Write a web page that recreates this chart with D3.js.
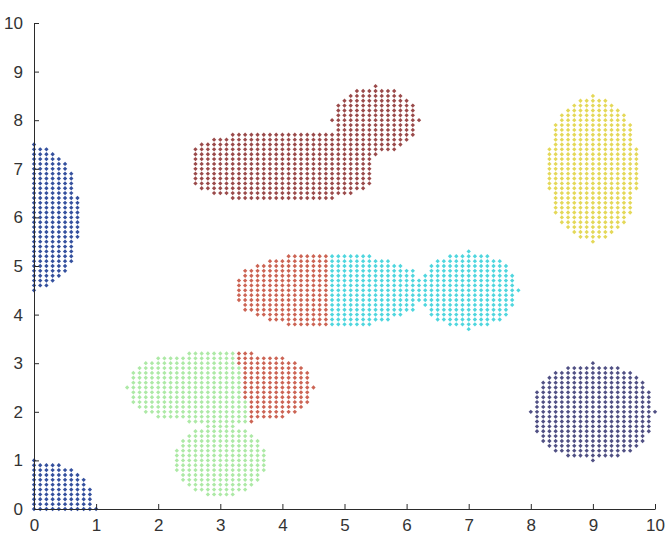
<!DOCTYPE html>
<html>
<head>
<meta charset="utf-8">
<script src="https://cdn.jsdelivr.net/npm/d3@7"></script>
<style>
  body { margin: 0; background: #fff; }
  .axis path, .axis line { stroke: #2b2b2b; }
  .axis text { font-family: Arial, "Liberation Sans", sans-serif; font-size: 17px; fill: #333; }
</style>
</head>
<body>
<div id="chart"></div>
<script>
'use strict'

// axis ticks
const xTicks = [0, 1, 2, 3, 4, 5, 6, 7, 8, 9, 10];
const yTicks = [0, 1, 2, 3, 4, 5, 6, 7, 8, 9, 10];

// the points sit on a regular grid, this is its step
const gridStep = 0.1;

// blobs of points (centre, radii, roundness, cluster)
const shapeCx      = [0,      0,      4,       5.5,     4.75,   7,      3,       3,       9,        9];
const shapeCy      = [0,      6,      7.05,    8,       4.5,    4.5,    2.5,     1,       7,        2];
const shapeRx      = [1,      0.72,   1.5,     0.7,     1.5,    0.8,    1.5,     0.75,    0.72,     1];
const shapeRy      = [1,      1.5,    0.72,    0.7,     0.75,   0.8,    0.72,    0.75,    1.5,      1];
const shapePow     = [2,      2.2,    2.6,     2,       2.4,    2,      2.5,     2,       2.2,      2];
const shapeCluster = ['navy', 'navy', 'brown', 'brown', 'cyan', 'cyan', 'green', 'green', 'yellow', 'slate'];

// parts of a blob that went to another cluster: side of a line through two points
const cutShape   = [4, 6];
const cutLine    = [[[4.75, 5.5], [4.75, 3.5]], [[3.25, 3.25], [3.55, 1.25]]];
const cutSide    = [-1, 1];
const cutCluster = ['salmon', 'salmon'];

const clusters = ['navy', 'slate', 'brown', 'salmon', 'cyan', 'green', 'yellow'];
const colors   = ['#34509e', '#505084', '#9a4a4a', '#cc6454', '#4fd6de', '#ade9a6', '#e4d858'];

let color = d3.scaleOrdinal().domain(clusters).range(colors);

function inShape(k, x, y) {
  let dx = Math.abs(x - shapeCx[k]) / shapeRx[k],
      dy = Math.abs(y - shapeCy[k]) / shapeRy[k];
  return Math.pow(dx, shapePow[k]) + Math.pow(dy, shapePow[k]) <= 1 + 1e-9;
}

function clusterOf(k, x, y) {
  let c = shapeCluster[k];
  cutShape.forEach(function(s, i) {
    if (s !== k) return;
    let a = cutLine[i][0], b = cutLine[i][1];
    let t = (y - a[1]) / (b[1] - a[1]);
    let xl = a[0] + t * (b[0] - a[0]);
    if ((x - xl) * cutSide[i] > 0) c = cutCluster[i];
  });
  return c;
}

// collect the grid points falling inside the blobs
let points = [];
let n = Math.round(10 / gridStep);
for (let i = 0; i <= n; i++) {
  for (let j = 0; j <= n; j++) {
    let x = i * gridStep, y = j * gridStep;
    for (let k = 0; k < shapeCx.length; k++) {
      if (inShape(k, x, y)) { points.push({x: x, y: y, c: clusterOf(k, x, y)}); break; }
    }
  }
}

let svg = d3.select('#chart')
  .append('svg')
  .attr('width', 667)
  .attr('height', 535);

let x = d3.scaleLinear().domain([0, 10]).range([34, 655]),
    y = d3.scaleLinear().domain([0, 10]).range([509, 23]);

let diamond = d3.symbol().type(d3.symbolDiamond2 || d3.symbolDiamond).size(12);

svg.append('g')
  .attr('class', 'points')
  .selectAll('path')
  .data(points)
  .enter().append('path')
  .attr('transform', function(d) { return 'translate(' + x(d.x) + ',' + y(d.y) + ')'; })
  .attr('d', diamond)
  .attr('fill', function(d) { return color(d.c); });

let xAxis = d3.axisBottom(x).tickValues(xTicks).tickSizeInner(-5).tickSizeOuter(0).tickPadding(10),
    yAxis = d3.axisLeft(y).tickValues(yTicks).tickSizeInner(-5).tickSizeOuter(0).tickPadding(11);

svg.append('g')
  .attr('class', 'axis axis--x')
  .attr('transform', 'translate(0,' + y(0) + ')')
  .call(xAxis);

svg.append('g')
  .attr('class', 'axis axis--y')
  .attr('transform', 'translate(' + x(0) + ',0)')
  .call(yAxis);
</script>
</body>
</html>
